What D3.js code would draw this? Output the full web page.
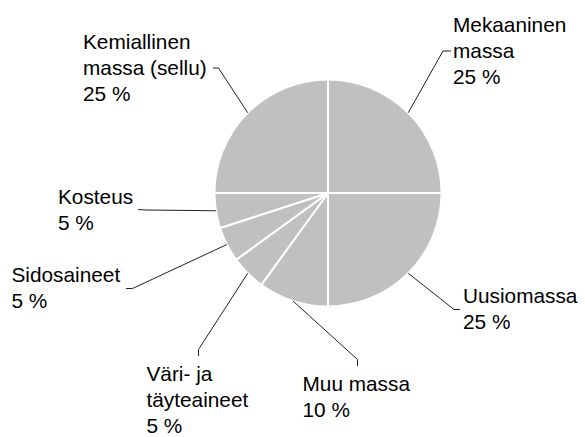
<!DOCTYPE html>
<html>
<head>
<meta charset="utf-8">
<script src="https://cdn.jsdelivr.net/npm/d3@7"></script>
<style>
  body { margin: 0; background: #fff; }
  svg text { font-family: "Liberation Sans", Arial, sans-serif; font-size: 20.8px; fill: #000; }
</style>
</head>
<body>
<div id="pie-chart"></div>
<script>
// data (clockwise from 12 o'clock)
const categories = ["Mekaaninen massa", "Uusiomassa", "Muu massa", "Väri- ja täyteaineet",
    "Sidosaineet", "Kosteus", "Kemiallinen massa (sellu)"];
const values = [25, 25, 10, 5, 5, 5, 25];
const valueLabels = ["25 %", "25 %", "10 %", "5 %", "5 %", "5 %", "25 %"];
// how the category names wrap in the labels
const nameLines = [["Mekaaninen", "massa"], ["Uusiomassa"], ["Muu massa"], ["Väri- ja", "täyteaineet"],
    ["Sidosaineet"], ["Kosteus"], ["Kemiallinen", "massa (sellu)"]];

// label placement: text x / first baseline, leader elbow and tick end
const layout = [
    { tx: 453, ty: 32, elbow: [443, 51], tick: [451, 51] },
    { tx: 463, ty: 303, elbow: [454, 309.5], tick: [460, 309.5] },
    { tx: 302.5, ty: 391, elbow: [357.5, 359.5], tick: [357.5, 366] },
    { tx: 146.5, ty: 381, elbow: [198.5, 349.5], tick: [198.5, 356] },
    { tx: 11.5, ty: 282, elbow: [132.5, 288.5], tick: [126, 288.5] },
    { tx: 58, ty: 203.5, elbow: [146, 210], tick: [138, 209.5] },
    { tx: 83, ty: 48.5, elbow: [218.5, 68], tick: [213, 68] }
];

const width = 585, height = 437;
const cx = 328, cy = 193, radius = 113.5;
const lineStep = 26;

const svg = d3.select("#pie-chart")
    .append("svg")
    .attr("width", width)
    .attr("height", height);

const pie = d3.pie().sort(null).value(d => d)(values);
const arc = d3.arc().innerRadius(0).outerRadius(radius);

const g = svg.append("g").attr("transform", `translate(${cx},${cy})`);

// slices
g.selectAll("path.slice")
    .data(pie)
    .join("path")
    .attr("class", "slice")
    .attr("d", arc)
    .attr("fill", "#c0c0c0")
    .attr("stroke", "#fff")
    .attr("stroke-width", 2);

// leader lines from the middle of each slice's rim
svg.selectAll("polyline.leader")
    .data(pie)
    .join("polyline")
    .attr("class", "leader")
    .attr("fill", "none")
    .attr("stroke", "#222")
    .attr("stroke-width", 1)
    .attr("points", (d, i) => {
        const a = (d.startAngle + d.endAngle) / 2;
        const p = [cx + radius * Math.sin(a), cy - radius * Math.cos(a)];
        const l = layout[i];
        return [p, l.elbow, l.tick].map(q => q.join(",")).join(" ");
    });

// labels
const labels = svg.selectAll("text.label")
    .data(categories)
    .join("text")
    .attr("class", "label")
    .attr("x", (d, i) => layout[i].tx)
    .attr("y", (d, i) => layout[i].ty);

labels.each(function (d, i) {
    const lines = nameLines[i].concat([valueLabels[i]]);
    d3.select(this).selectAll("tspan")
        .data(lines)
        .join("tspan")
        .attr("x", layout[i].tx)
        .attr("dy", (t, j) => j === 0 ? 0 : lineStep)
        .text(t => t);
});
</script>
</body>
</html>
